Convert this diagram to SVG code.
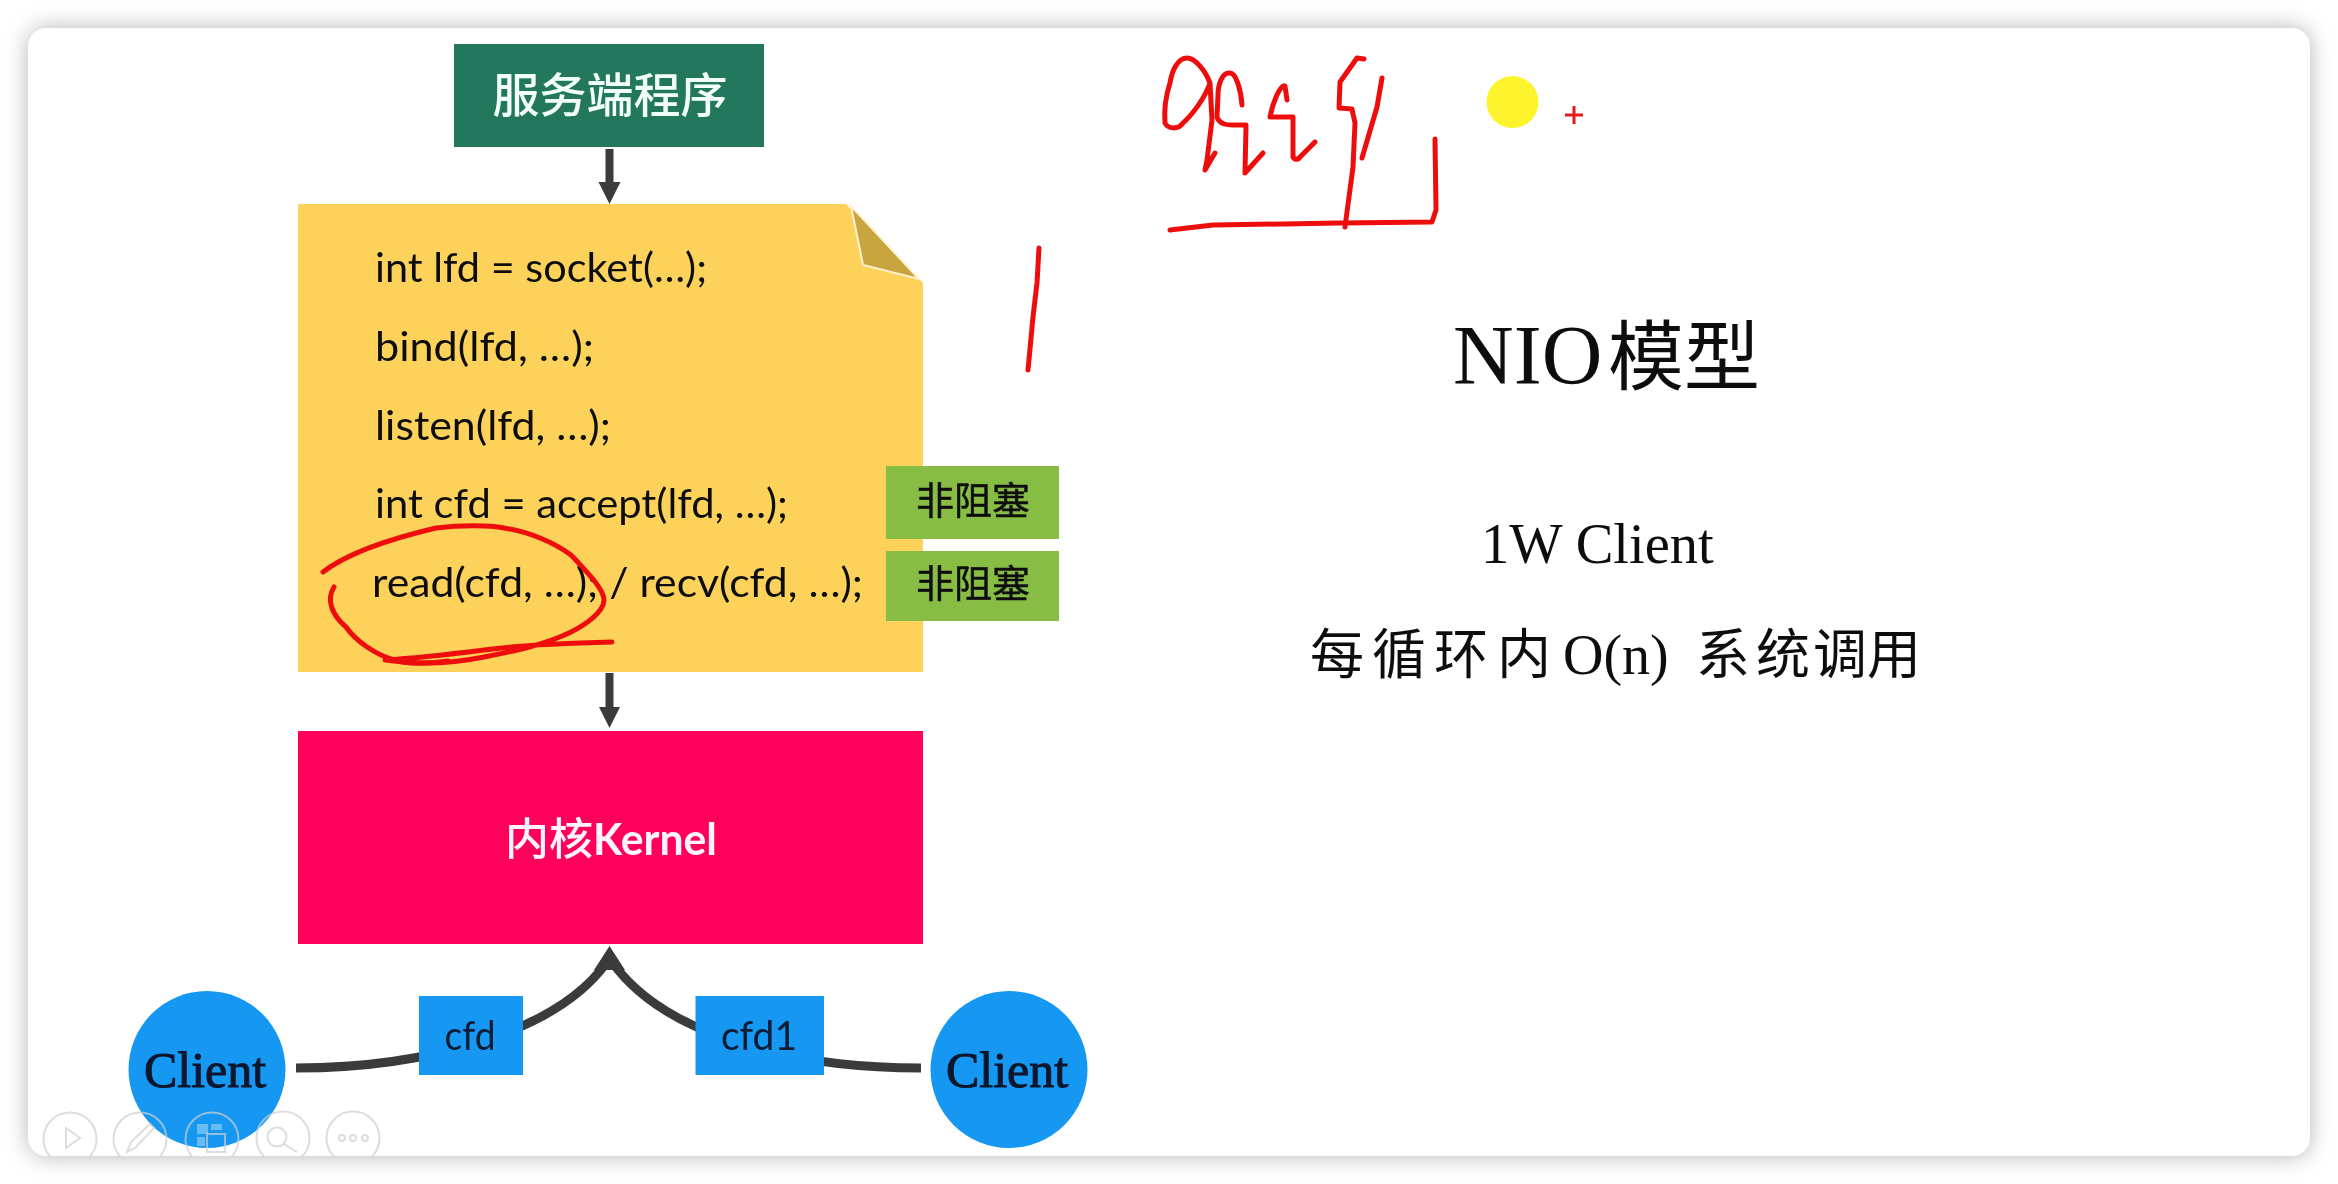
<svg xmlns="http://www.w3.org/2000/svg" width="2338" height="1184" viewBox="0 0 2338 1184">
<style>
.cjk{font-family:"Noto Sans CJK SC",sans-serif}
.serif{font-family:"Liberation Serif","Noto Sans CJK SC",serif;fill:#0c0c0c}
.code{font-family:Lato,"Liberation Sans",sans-serif;font-size:40px;fill:#111}
.ink{fill:none;stroke:#ee1010;stroke-width:5;stroke-linecap:round;stroke-linejoin:round}
.wire{fill:none;stroke:#3b3b3b;stroke-width:8}
.curve{fill:none;stroke:#3b3b3b;stroke-width:9}
.head{fill:#3b3b3b}
.client{fill:#1398f2}
.clienttext{font-family:"Liberation Serif",serif;font-size:50px;fill:#08142a;stroke:#08142a;stroke-width:1;text-anchor:middle}
.tag{fill:#1398f2}
.tagtext{font-family:Lato,"Liberation Sans",sans-serif;font-size:40px;fill:#0b1a33;text-anchor:middle}
.green{fill:#87bd45}
.greentext{font-family:"Noto Sans CJK SC",sans-serif;font-size:38px;font-weight:400;fill:#111;stroke:#111;stroke-width:.5;text-anchor:middle}
.tool{fill:none;stroke:#cfcfcf;stroke-width:2;opacity:.7}
</style>
<defs>
<filter id="shadow" x="-5%" y="-10%" width="110%" height="120%"><feGaussianBlur stdDeviation="11"/></filter>
<filter id="soft" x="0" y="0" width="100%" height="100%"><feGaussianBlur stdDeviation="0.6"/></filter>
<clipPath id="cardclip"><rect x="28" y="28" width="2282" height="1128" rx="18"/></clipPath>
</defs>
<rect width="2338" height="1184" fill="#ffffff"/>
<rect x="28" y="28" width="2282" height="1128" rx="18" fill="#b4b4b4" filter="url(#shadow)"/>
<rect x="28" y="28" width="2282" height="1128" rx="18" fill="#ffffff"/>

<g id="content" filter="url(#soft)">
<g id="connectors">
<path class="wire" d="M609.500 149V185"/>
<path class="head" d="M598.500 182H620.500L609.500 204Z"/>
<path class="wire" d="M609.500 673V710"/>
<path class="head" d="M599 707H620L609.500 728Z"/>
<path class="curve" d="M296 1068C420 1068 555 1035 607 962"/>
<path class="curve" d="M921 1068C790 1068 664 1035 612 962"/>
<path class="head" d="M609.500 946L625 970H594Z"/>
</g>

<g id="server">
<rect x="454" y="44" width="310" height="103" fill="#20775b"/>
<text class="cjk" x="610" y="112" font-size="47" font-weight="500" fill="#f2fff8" text-anchor="middle">服务端程序</text>
</g>

<g id="code">
<path d="M298 204H846L923 283V672H298Z" fill="#fdd25a"/>
<path d="M851 206L863 265L919 279Z" fill="#c9a53f" stroke="#fff3cf" stroke-width="2"/>
<text class="code" x="375" y="282" textLength="332" lengthAdjust="spacingAndGlyphs">int lfd = socket(…);</text>
<text class="code" x="375" y="361" textLength="219" lengthAdjust="spacingAndGlyphs">bind(lfd, …);</text>
<text class="code" x="375" y="440" textLength="236" lengthAdjust="spacingAndGlyphs">listen(lfd, …);</text>
<text class="code" x="375" y="518" textLength="413" lengthAdjust="spacingAndGlyphs">int cfd = accept(lfd, …);</text>
<text class="code" x="372" y="597" textLength="491" lengthAdjust="spacingAndGlyphs">read(cfd, …); / recv(cfd, …);</text>
</g>

<g id="nonblock1">
<rect class="green" x="886" y="466" width="173" height="73"/>
<text class="greentext" x="973" y="514">非阻塞</text>
</g>
<g id="nonblock2">
<rect class="green" x="886" y="551" width="173" height="70"/>
<text class="greentext" x="973" y="597">非阻塞</text>
</g>

<g id="kernel">
<rect x="298" y="731" width="625" height="213" fill="#ff005a"/>
<text y="855" font-size="44" font-weight="500" fill="#fff4fa"><tspan class="cjk" x="505">内核</tspan><tspan font-family="Lato,'Liberation Sans',sans-serif" font-weight="700" font-size="43" x="593" textLength="124" lengthAdjust="spacingAndGlyphs">Kernel</tspan></text>
</g>

<g id="client-left">
<circle class="client" cx="207" cy="1069.500" r="78.500"/>
<text class="clienttext" x="205" y="1087">Client</text>
</g>
<g id="client-right">
<circle class="client" cx="1009" cy="1069.500" r="78.500"/>
<text class="clienttext" x="1007" y="1087">Client</text>
</g>
<g id="cfd">
<rect class="tag" x="419" y="996" width="104" height="79"/>
<text class="tagtext" x="470" y="1050" textLength="51" lengthAdjust="spacingAndGlyphs">cfd</text>
</g>
<g id="cfd1">
<rect class="tag" x="695.500" y="996" width="128.500" height="79"/>
<text class="tagtext" x="759" y="1050" textLength="76" lengthAdjust="spacingAndGlyphs">cfd1</text>
</g>

<g id="title">
<text class="serif" y="384" font-size="84"><tspan x="1453">NIO</tspan><tspan x="1608" font-size="76">模</tspan><tspan x="1684" font-size="76">型</tspan></text>
<text class="serif" x="1481" y="563" font-size="56.500">1W Client</text>
<text class="serif" y="674" font-size="54"><tspan x="1310 1372 1434 1497">每循环内</tspan><tspan x="1563" font-size="56">O(n)</tspan><tspan x="1696 1756 1813 1867">系统调用</tspan></text>
</g>

<g id="ink">
<path class="ink" d="M1210 83C1205 70 1195 58 1187 58C1178 58 1172 70 1170 83C1166 95 1164 110 1165 123C1168 129 1178 130 1183 123C1192 115 1205 98 1210 83L1212 120L1207 160L1205 170L1215 153"/>
<path class="ink" d="M1242 105C1241 90 1236 73 1230 73C1222 72 1218 85 1218 95L1217 117C1220 125 1228 125 1233 125L1246 125L1245 173L1263 153"/>
<path class="ink" d="M1287 100L1285 86C1280 84 1272 105 1270 117L1293 117L1293 157C1295 160 1298 160 1300 157L1315 142"/>
<path class="ink" d="M1364 59L1357 58L1340 82L1339 108L1352 109L1355 123L1353 167L1345 227"/>
<path class="ink" d="M1382 78L1377 107L1362 158"/>
<path class="ink" d="M1170 230L1213 225L1340 223L1432 222L1436 210L1435 139"/>
<path class="ink" d="M1039 248L1037 283L1033 317L1028 370"/>
<path class="ink" d="M323 572C345 555 385 540 436 528C460 525 490 525 504 528C530 532 555 543 571 555C590 575 604 590 604 600C604 612 585 625 571 632C545 645 510 652 484 657C460 662 425 666 385 660C420 658 460 653 484 650C520 645 570 643 612 642"/>
<path class="ink" d="M334 587C326 600 332 615 346 627C355 640 375 655 395 660C405 664 425 664 448 661"/>
<circle cx="1512.500" cy="102" r="26" fill="#fdf42f"/>
<path d="M1565 115H1583M1574 106V124" fill="none" stroke="#e21b1b" stroke-width="3"/>
</g>
</g>

<g id="toolbar" clip-path="url(#cardclip)">
<circle class="tool" cx="70" cy="1139" r="26.500"/>
<path class="tool" d="M66 1128L80 1138L66 1148Z"/>
<circle class="tool" cx="140" cy="1139" r="26.500"/>
<path class="tool" d="M127 1152L131 1142L150 1124L154 1128L135 1148Z"/>
<circle class="tool" cx="212" cy="1139" r="26.500"/>
<path d="M197 1124H208V1134H197ZM211 1124H222V1130H211ZM197 1137H205V1146H197Z" fill="#ffffff" opacity=".35"/>
<rect class="tool" x="207" y="1134" width="18" height="18"/>
<circle class="tool" cx="283" cy="1138" r="26.500"/>
<circle class="tool" cx="277" cy="1137" r="9.500" stroke-width="3"/>
<path class="tool" stroke-width="3" d="M284 1144L297 1152"/>
<circle class="tool" cx="353" cy="1138" r="26.500"/>
<circle class="tool" cx="342" cy="1138" r="3"/>
<circle class="tool" cx="353" cy="1138" r="3"/>
<circle class="tool" cx="365" cy="1138" r="3"/>
</g>
</svg>
